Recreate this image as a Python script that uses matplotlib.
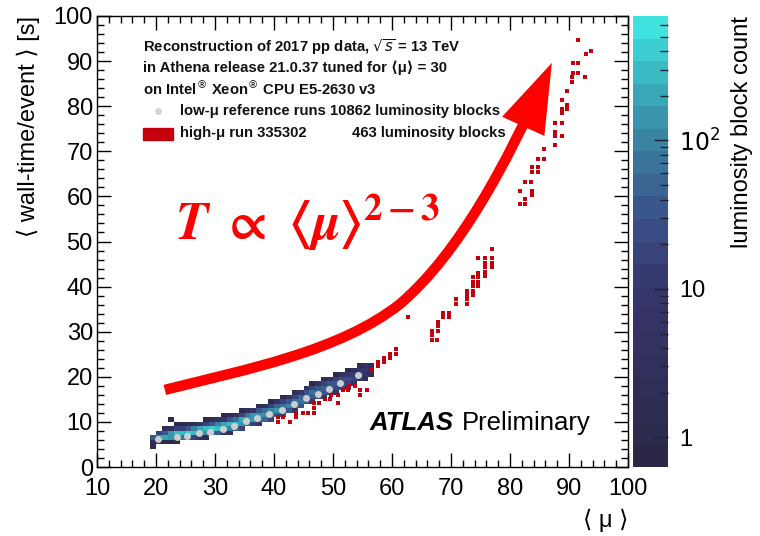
import matplotlib
matplotlib.use('Agg')
import matplotlib.pyplot as plt
import numpy as np
from matplotlib.colors import LogNorm, LinearSegmentedColormap
from matplotlib.patches import FancyArrowPatch, Rectangle
from matplotlib.path import Path
from matplotlib.lines import Line2D
from matplotlib.ticker import MultipleLocator, FixedLocator, FixedFormatter, NullFormatter

plt.rcParams['font.family'] = ['Liberation Sans', 'DejaVu Sans']

# low-mu reference runs: 2D histogram, one column per <mu> bin
# (lowest occupied time bin, counts from bottom to top)
hist_mu = [19, 20, 21, 22, 23, 24, 25, 26, 27, 28, 29, 30, 31, 32, 33, 34, 35, 36, 37,
           38, 39, 40, 41, 42, 43, 44, 45, 46, 47, 48, 49, 50, 51, 52, 53, 54, 55, 56]
hist_t0 = [4, 5, 5, 5, 5, 6, 6, 6, 6, 6, 7, 7, 7, 7, 8, 8, 9, 9, 9,
           10, 10, 11, 11, 12, 12, 13, 14, 14, 15, 15, 16, 16, 17, 17, 18, 19, 19, 20]
hist_counts = [
    [1, 2, 30], [3, 150, 20], [1, 200, 40, 2], [1, 150, 120, 3, 0, 1], [1, 60, 250, 20, 1],
    [80, 300, 15, 1], [40, 350, 40, 2], [20, 300, 90, 3], [5, 200, 200, 8], [2, 120, 300, 20, 1],
    [60, 350, 40, 2], [30, 300, 100, 4], [10, 200, 200, 10, 1], [3, 100, 300, 40, 2],
    [50, 250, 80, 4], [20, 150, 200, 15, 1], [60, 200, 60, 3], [20, 150, 120, 10],
    [8, 100, 150, 30, 2], [50, 150, 60, 5], [15, 100, 100, 15, 1], [40, 120, 50, 4],
    [15, 80, 80, 15, 1], [40, 90, 40, 5], [10, 60, 80, 20, 2], [30, 70, 50, 8],
    [30, 60, 40, 5], [10, 40, 60, 15, 1], [25, 50, 40, 6], [8, 30, 50, 20, 2],
    [20, 40, 30, 5], [5, 25, 35, 15, 1], [15, 30, 25, 4], [4, 15, 25, 10, 1],
    [10, 20, 12, 3], [8, 15, 10, 2], [2, 6, 10, 4], [2, 4, 3],
]

# low-mu reference profile (grey dots)
ref_mu = [20.4, 23.5, 25.3, 27.3, 29.2, 31.3, 33.2, 35.3, 37.2, 39.2, 41.3, 43.4,
          45.4, 47.4, 49.4, 51.2, 54.2]
ref_t = [6.1, 6.6, 6.9, 7.5, 7.8, 8.4, 9.1, 10.3, 10.8, 11.8, 12.6, 14.0,
         15.2, 16.2, 17.2, 18.6, 20.3]

# high-mu run 335302 (red boxes)
red_mu = [40.7, 40.7, 41.6, 42.7, 43.8, 43.8, 44.9, 45.8, 46.7, 46.7, 46.8, 47.7,
          48.6, 49.5, 49.7, 50.9, 50.9, 51.7, 52.6, 52.7, 53.7, 54.6, 54.6, 55.7,
          56.6, 57.6, 57.6, 58.6, 58.6, 59.7, 59.7, 60.7, 60.7, 62.7,
          66.7, 66.7, 66.7, 67.7, 67.8, 67.8, 67.8, 68.7, 68.7, 69.7, 69.7,
          70.8, 70.8, 72.7, 72.7, 72.7, 72.7, 73.7, 73.7, 73.7, 73.7, 73.7,
          74.6, 74.6, 74.6, 74.6, 74.6, 75.8, 75.8, 75.8, 75.8, 75.8,
          76.9, 76.9, 76.9, 76.9,
          81.7, 82.5, 82.5, 81.7, 83.7, 83.7, 82.5, 83.5, 83.7, 83.7, 84.8, 84.8,
          84.8, 85.8, 85.8, 87.6, 87.6, 87.6, 88.8, 87.6, 88.8, 88.8, 88.8, 89.6,
          89.6, 88.8, 89.6, 90.5, 90.5, 90.6, 91.6, 92.7, 90.6, 91.6, 92.9, 93.7, 91.6]
red_t = [11.0, 10.0, 11.0, 10.0, 11.0, 12.0, 12.0, 12.0, 12.0, 13.0, 14.1, 14.1,
         15.0, 15.0, 16.0, 16.0, 14.1, 17.1, 17.1, 18.0, 18.0, 17.1, 16.0, 17.1,
         21.4, 22.3, 23.2, 23.2, 24.1, 24.1, 25.1, 25.1, 26.1, 33.2,
         28.2, 29.2, 30.2, 28.2, 30.2, 31.3, 32.2, 33.2, 34.2, 33.2, 34.2,
         36.1, 37.2, 36.1, 37.2, 38.1, 39.1, 38.1, 39.1, 40.1, 41.1, 42.1,
         40.1, 41.1, 42.1, 43.0, 46.3, 42.4, 43.3, 44.3, 45.3, 46.3,
         44.3, 45.3, 46.3, 48.3,
         58.3, 58.3, 59.4, 61.3, 60.3, 61.3, 63.3, 63.3, 65.5, 66.5, 65.5, 66.5,
         68.3, 68.3, 70.4, 71.4, 73.4, 74.3, 73.4, 76.3, 76.3, 78.4, 79.3, 79.3,
         80.3, 81.4, 83.4, 85.4, 86.5, 87.4, 87.4, 86.5, 89.5, 89.5, 91.6, 92.3, 94.6]

# curved arrow (cubic bezier) in data coordinates
arrow_pts = [(21.5, 17.1), (35.1, 21.6), (51.2, 25.6), (61.4, 36.2),
             (71.5, 47.5), (79.5, 67.6), (87.1, 89.6)]

H = np.full((100, 90), np.nan)
for mu, t0, cnts in zip(hist_mu, hist_t0, hist_counts):
    for k, c in enumerate(cnts):
        if c > 0:
            H[t0 + k, mu - 10] = c

cmap = LinearSegmentedColormap.from_list(
    'lb', [(0.0, '#2a2846'), (0.066, '#2d2b4f'), (0.395, '#37366c'), (0.56, '#3a528a'),
           (0.724, '#3a7e9e'), (0.86, '#38aebb'), (1.0, '#40e2e0')], N=20)
norm = LogNorm(vmin=0.63, vmax=690)

W, Hpx = 760, 536
fig = plt.figure(figsize=(W / 100, Hpx / 100), dpi=100)


def fx(x):
    return x / W


def fy(y):
    return 1 - y / Hpx


ax = fig.add_axes([fx(97), fy(467), (628 - 97) / W, (467 - 16) / Hpx])
cax = fig.add_axes([fx(633), fy(467), 35 / W, (467 - 16) / Hpx])

mesh = ax.pcolormesh(np.arange(10, 101), np.arange(0, 101), np.ma.masked_invalid(H),
                     cmap=cmap, norm=norm)
ax.plot(ref_mu, ref_t, 'o', ms=5, color='#d4d4d4', mec='none', alpha=0.95)
ax.scatter(red_mu, red_t, marker='s', s=11, color='#c4000c', lw=0)

arrow = FancyArrowPatch(path=Path(arrow_pts, [Path.MOVETO] + [Path.CURVE4] * 6),
                        arrowstyle='-|>,head_length=0.75,head_width=0.25',
                        mutation_scale=46, lw=7.5, color='#ff0000',
                        transform=ax.transData, capstyle='butt', joinstyle='miter')
ax.add_patch(arrow)

ax.set_xlim(10, 100)
ax.set_ylim(0, 100)
ax.xaxis.set_major_locator(MultipleLocator(10))
ax.xaxis.set_minor_locator(MultipleLocator(2))
ax.yaxis.set_major_locator(MultipleLocator(10))
ax.yaxis.set_minor_locator(MultipleLocator(2))
ax.tick_params(which='both', direction='in', top=True, right=True, labelsize=17)
ax.tick_params(which='major', length=10, width=1)
ax.tick_params(which='minor', length=5, width=1)
ax.tick_params(axis='x', pad=8)
ax.tick_params(axis='y', pad=3)
for s in ax.spines.values():
    s.set_linewidth(1)
ax.set_xlabel('⟨ μ ⟩', loc='right', fontsize=17, labelpad=6)
ax.set_ylabel('⟨ wall-time/event ⟩ [s]', loc='top', fontsize=17, labelpad=10)

cb = fig.colorbar(mesh, cax=cax)
cb.outline.set_visible(False)
cax.yaxis.set_major_locator(FixedLocator([1, 10, 100]))
cax.yaxis.set_major_formatter(FixedFormatter(['1', '10', '$10^{2}$']))
cax.yaxis.set_minor_locator(FixedLocator([2, 3, 4, 5, 6, 7, 8, 9, 20, 30, 40, 50, 60, 70, 80, 90,
                                          200, 300, 400, 500, 600]))
cax.yaxis.set_minor_formatter(NullFormatter())
cax.tick_params(which='both', direction='in', right=True, left=False, colors='#222233',
                labelcolor='black', labelsize=17)
cax.tick_params(which='major', length=10, width=1, pad=8)
cax.tick_params(which='minor', length=6, width=1)
cb.set_label('luminosity block count', loc='top', fontsize=17, labelpad=8)

# header text
hdr = dict(fontsize=10.7, fontweight='bold', color='#111111', va='center')
fig.text(fx(143), fy(47), r'Reconstruction of 2017 pp data, $\sqrt{s}$ = 13 TeV', **hdr)
fig.text(fx(143), fy(68), 'in Athena release 21.0.37 tuned for ⟨μ⟩ = 30', **hdr)
fig.text(fx(143), fy(88), 'on Intel$^{®}$ Xeon$^{®}$ CPU E5-2630 v3', **hdr)

# legend
fig.add_artist(Line2D([fx(158)], [fy(111)], marker='o', ms=5, color='#d4d4d4', mec='none',
                      transform=fig.transFigure))
fig.add_artist(Rectangle((fx(143), fy(140)), 30 / W, 12 / Hpx, color='#c4000c',
                         transform=fig.transFigure))
fig.text(fx(180), fy(111), 'low-μ reference runs 10862 luminosity blocks', **hdr)
fig.text(fx(180), fy(133), 'high-μ run 335302', **hdr)
fig.text(fx(352), fy(133), '463 luminosity blocks', **hdr)

fig.text(fx(370), fy(423), 'ATLAS', fontsize=18.5, fontweight='bold', fontstyle='italic',
         va='center')
fig.text(fx(462), fy(423), 'Preliminary', fontsize=18.5, va='center')

fig.text(fx(175), fy(240), r'$\mathbfit{T}\ \mathbf{\propto}\ \mathbf{\langle}\mathbfit{\mu}\mathbf{\rangle}^{\mathbf{2-3}}$',
         fontsize=38, color='#ff0000', va='baseline', math_fontfamily='stix')

fig.savefig('out.png', dpi=100)
